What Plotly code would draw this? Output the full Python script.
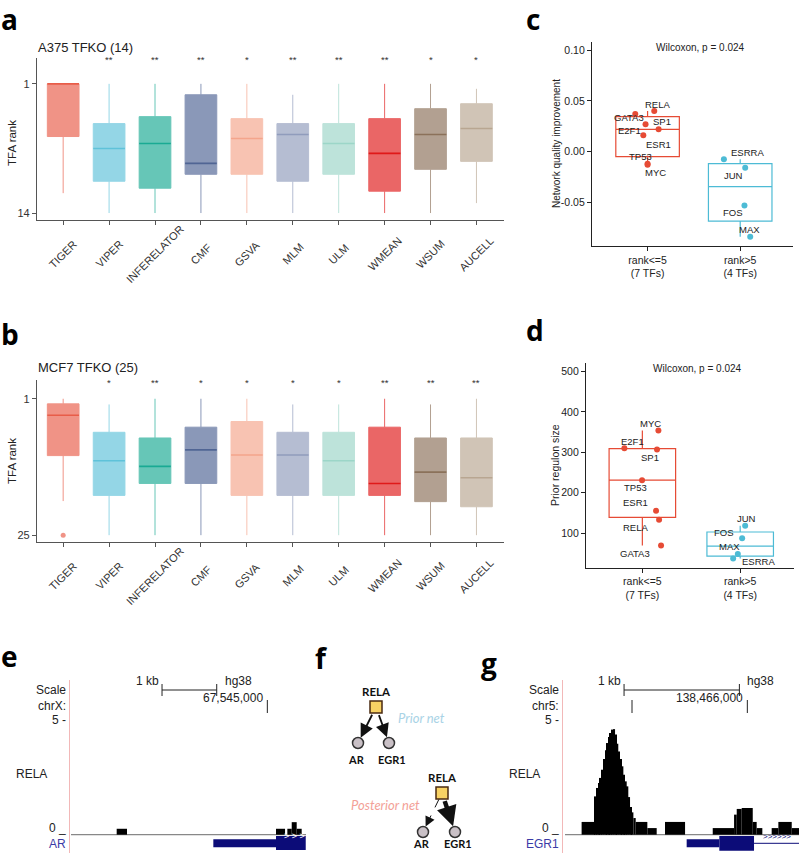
import plotly.graph_objects as go

W, H = 799, 853
FONT = "Liberation Sans"

methods = ["TIGER", "VIPER", "INFERELATOR", "CMF", "GSVA",
           "MLM", "ULM", "WMEAN", "WSUM", "AUCELL"]
npg = ["#E64B35", "#4DBBD5", "#00A087", "#3C5488", "#F39B7F",
       "#8491B4", "#91D1C2", "#DC0000", "#7E6148", "#B09C85"]

# a: A375 TFKO (14) - rank of the knocked-out TF per method
a_q1 = [1, 5.0, 4.3, 2.1, 4.5, 5.0, 5.0, 4.5, 3.5, 3.0]
a_median = [1, 7.5, 7.0, 9.0, 6.5, 6.1, 7.0, 8.0, 6.1, 5.5]
a_q3 = [6.3, 10.8, 11.5, 10.1, 10.1, 10.8, 10.1, 11.8, 9.6, 8.8]
a_low = [1, 1, 1, 1, 1, 2.1, 1, 1, 1, 1.5]
a_high = [12, 14, 14, 14, 14, 14, 14, 14, 14, 13]
a_sig = ["", "**", "**", "**", "*", "**", "**", "**", "*", "*"]

# b: MCF7 TFKO (25)
b_q1 = [1.9, 6.9, 7.9, 6.0, 5.0, 6.9, 6.9, 6.0, 7.9, 7.9]
b_median = [3.9, 11.9, 12.9, 10.0, 10.9, 10.9, 11.9, 15.9, 13.9, 14.9]
b_q3 = [11.0, 18.0, 15.9, 15.9, 18.0, 18.0, 18.0, 18.0, 19.1, 20.0]
b_low = [1, 2, 1, 1, 1, 2, 2, 1, 2, 1]
b_high = [19, 25, 25, 25, 25, 25, 25, 25, 25, 25]
b_outlier_method = ["TIGER"]
b_outlier_rank = [25]
b_sig = ["", "*", "**", "*", "*", "*", "*", "**", "**", "**"]

# c / d: TFs split by TIGER rank
groups = ["rank&lt;=5<br>(7 TFs)", "rank&gt;5<br>(4 TFs)"]
c_tf_top = ["RELA", "GATA3", "E2F1", "SP1", "ESR1", "TP53", "MYC"]
c_val_top = [0.040, 0.037, 0.027, 0.022, 0.016, -0.012, -0.013]
c_tf_low = ["ESRRA", "JUN", "FOS", "MAX"]
c_val_low = [-0.0075, -0.016, -0.053, -0.084]

d_tf_top = ["MYC", "E2F1", "SP1", "TP53", "ESR1", "RELA", "GATA3"]
d_val_top = [354, 310, 307, 231, 155, 133, 69]
d_tf_low = ["JUN", "FOS", "MAX", "ESRRA"]
d_val_low = [118, 87, 48, 37]
wilcox_p = 0.024

# jitter (category units) and label nudges (px) as drawn
c_jit_top = [0.072, -0.133, -0.022, 0.119, -0.046, 0.0, 0.0]
c_nudge_top = [(3, 7), (-6, -3), (-16, -6), (3, 8), (15, -9), (-7, 7), (8, -8)]
c_jit_low = [-0.176, 0.054, 0.046, 0.108]
c_nudge_low = [(24, 7), (-12, -8), (-11, -7), (-1, 7)]
d_jit_top = [0.164, -0.184, 0.150, -0.003, 0.14, 0.171, 0.191]
d_nudge_top = [(-8, 7), (8, 7), (-7, -8), (-7, -7), (-21, 8), (-24, -8), (-26, -8)]
d_jit_low = [0.051, 0.02, -0.024, -0.072]
d_nudge_low = [(1, 7), (-18, 6), (-8, 7), (25, -3)]

# e: RELA ChIP signal at AR (chrX)
e_view = [67541411, 67545707]
e_start = [67542246, 67545159, 67545366, 67545446, 67545537]
e_end = [67542435, 67545324, 67545446, 67545537, 67545628]
e_val = [0.26, 0.26, 0.26, 0.55, 0.26]
e_utr = [67544013, 67545159]
e_cds = [67545159, 67545702]
e_scale = [67543075, 67544075]
e_tick = [67545000]

# g: RELA ChIP signal at EGR1 (chr5)
g_view = [138464419, 138466448]
g_start = [138464563, 138464679, 138464694, 138464708, 138464722, 138464737,
           138464751, 138464766, 138464780, 138464795, 138464809, 138464824,
           138464838, 138464853, 138464867, 138464881, 138464896, 138464910,
           138464925, 138464939, 138464954, 138464968, 138464983, 138464997,
           138465012, 138465032, 138465133, 138465286, 138465700, 138465885,
           138465908, 138465951, 138466047, 138466081, 138466211, 138466269,
           138466385]
g_end = [138464679, 138464694, 138464708, 138464722, 138464737, 138464751,
         138464766, 138464780, 138464795, 138464809, 138464824, 138464838,
         138464853, 138464867, 138464881, 138464896, 138464910, 138464925,
         138464939, 138464954, 138464968, 138464983, 138464997, 138465012,
         138465032, 138465133, 138465214, 138465460, 138465885, 138465908,
         138465951, 138466047, 138466081, 138466130, 138466269, 138466385,
         138466448]
g_val = [0.56, 1.68, 2.05, 2.27, 2.49, 2.85, 3.32, 3.70, 4.02, 4.28, 4.46, 4.61,
         4.63, 4.39, 3.99, 3.65, 3.32, 3.00, 2.63, 2.34, 2.12, 1.65, 1.21, 0.98,
         0.73, 0.56, 0.29, 0.56, 0.29, 0.88, 1.13, 1.17, 0.56, 0.29, 0.29, 0.56,
         0.29]
g_utr = [138465474, 138465757]
g_cds = [138465757, 138466058]
g_intron = [138466058, 138466448]
g_scale = [138464931, 138465931]
g_tick = [138465000, 138466000]

# f: network sketch (positions in px)
f_nodes = {"RELA_p": (376, 707), "AR_p": (358, 743), "EGR1_p": (389, 743),
           "RELA_q": (442, 793), "AR_q": (423, 832), "EGR1_q": (455, 832)}
f_edges = [("RELA_p", "AR_p", "solid"), ("RELA_p", "EGR1_p", "solid"),
           ("RELA_q", "AR_q", "dash"), ("RELA_q", "EGR1_q", "thick")]


def fx(px):
    return px / W


def fy(py):
    return 1 - py / H


def blend(hexc, a):
    rgb = [int(hexc[i:i + 2], 16) for i in (1, 3, 5)]
    return "rgb(%d,%d,%d)" % tuple(round(v * a + 255 * (1 - a)) for v in rgb)


fig = go.Figure()
ann = []
shapes = []


def note(px, py, text, size=12, color="#222", xanchor="center", family=FONT, angle=0):
    ann.append(dict(x=fx(px), y=fy(py), xref="paper", yref="paper", text=text,
                    showarrow=False, xanchor=xanchor, yanchor="middle", textangle=angle,
                    borderpad=0, font=dict(size=size, color=color, family=family)))


def rank_panel(q1, med, q3, lo, hi, sig, xa, ya, star_py, label_py):
    for i, m in enumerate(methods):
        fig.add_trace(go.Box(x=[i], q1=[q1[i]], median=[med[i]], q3=[q3[i]],
                             lowerfence=[lo[i]], upperfence=[hi[i]], width=0.69,
                             whiskerwidth=0, fillcolor=blend(npg[i], 0.6),
                             line=dict(color=blend(npg[i], 0.6), width=1),
                             boxpoints=False, orientation="v", name=m,
                             xaxis=xa, yaxis=ya, hoverinfo="skip"))
        # median drawn darker on top
        fig.add_trace(go.Box(x=[i], q1=[med[i]], median=[med[i]], q3=[med[i]],
                             lowerfence=[med[i]], upperfence=[med[i]], width=0.69,
                             whiskerwidth=0, fillcolor="rgba(0,0,0,0)",
                             line=dict(color=blend(npg[i], 0.9), width=1.6),
                             boxpoints=False, orientation="v", name=m,
                             xaxis=xa, yaxis=ya, hoverinfo="skip"))
        if sig[i]:
            ann.append(dict(x=i, xref=xa, y=fy(star_py), yref="paper", text=sig[i],
                            showarrow=False, yanchor="middle",
                            font=dict(size=9.5, color="#333", family=FONT)))
        # method names, rotated 45 degrees about their centre (as in the ggplot figure)
        ann.append(dict(x=i, xref=xa, y=fy(label_py), yref="paper", text=m,
                        showarrow=False, xanchor="center", yanchor="middle", textangle=-45,
                        font=dict(size=11, color="#333", family=FONT)))


rank_panel(a_q1, a_median, a_q3, a_low, a_high, a_sig, "x", "y", 60, 254)
rank_panel(b_q1, b_median, b_q3, b_low, b_high, b_sig, "x2", "y2", 382, 576)
fig.add_trace(go.Scatter(x=[methods.index(m) for m in b_outlier_method], y=b_outlier_rank,
                         mode="markers", marker=dict(color=blend(npg[0], 0.6), size=5),
                         xaxis="x2", yaxis="y2", hoverinfo="skip"))


def group_panel(sets, xa, ya, width):
    for gi, (vals, tfs, jit, nud) in enumerate(sets):
        col = npg[gi]
        fig.add_trace(go.Box(x=[gi] * len(vals), y=vals, quartilemethod="linear",
                             width=width, whiskerwidth=0, fillcolor="rgba(0,0,0,0)",
                             line=dict(color=col, width=1.2), boxpoints=False,
                             xaxis=xa, yaxis=ya, hoverinfo="skip"))
        fig.add_trace(go.Scatter(x=[gi + j for j in jit], y=vals, mode="markers",
                                 marker=dict(color=col, size=6),
                                 xaxis=xa, yaxis=ya, hoverinfo="skip"))
        for k in range(len(vals)):
            ann.append(dict(x=gi + jit[k], y=vals[k], xref=xa, yref=ya, text=tfs[k],
                            showarrow=False, xshift=nud[k][0], yshift=nud[k][1],
                            font=dict(size=9.5, color="#222", family=FONT)))


group_panel([(c_val_top, c_tf_top, c_jit_top, c_nudge_top),
             (c_val_low, c_tf_low, c_jit_low, c_nudge_low)], "x3", "y3", 0.686)
group_panel([(d_val_top, d_tf_top, d_jit_top, d_nudge_top),
             (d_val_low, d_tf_low, d_jit_low, d_nudge_low)], "x4", "y4", 0.68)


def track(starts, ends, vals, view, xa, ya):
    fig.add_trace(go.Bar(x=[(s + e) / 2 for s, e in zip(starts, ends)], y=vals,
                         width=[e - s for s, e in zip(starts, ends)],
                         marker=dict(color="black", line=dict(width=0)),
                         xaxis=xa, yaxis=ya, hoverinfo="skip"))
    shapes.append(dict(type="line", xref=xa, yref=ya, x0=view[0], x1=view[1], y0=0, y1=0,
                       line=dict(color="#888", width=1.2), layer="below"))


track(e_start, e_end, e_val, e_view, "x5", "y5")
track(g_start, g_end, g_val, g_view, "x6", "y6")

NAVY = "#0C0C78"


def gene_rect(xa, x0, x1, top, bot):
    shapes.append(dict(type="rect", xref=xa, yref="paper", x0=x0, x1=x1,
                       y0=fy(bot), y1=fy(top), fillcolor=NAVY, line=dict(width=0)))


def vline(xa, x, top, bot, color="#222"):
    shapes.append(dict(type="line", xref=xa, yref="paper", x0=x, x1=x,
                       y0=fy(bot), y1=fy(top), line=dict(color=color, width=1)))


gene_rect("x5", e_utr[0], e_utr[1], 839.3, 847.3)
gene_rect("x5", e_cds[0], e_cds[1], 836, 850)
ann.append(dict(x=(e_cds[0] + e_cds[1]) / 2 + 70, xref="x5", y=fy(843), yref="paper",
                text="&gt; &gt; &gt;", showarrow=False,
                font=dict(size=9, color="white", family=FONT)))
gene_rect("x6", g_utr[0], g_utr[1], 839.3, 847.3)
gene_rect("x6", g_cds[0], g_cds[1], 836, 850.7)
shapes.append(dict(type="line", xref="x6", yref="paper", x0=g_intron[0], x1=g_intron[1],
                   y0=fy(843.3), y1=fy(843.3), line=dict(color=NAVY, width=1)))
ann.append(dict(x=(g_intron[0] + g_intron[1]) / 2, xref="x6", y=fy(843.3), yref="paper",
                text="&gt;&gt;&gt;&gt;&gt;&gt;", showarrow=False,
                font=dict(size=8, color=NAVY, family=FONT)))

# scale bars and coordinate ticks
for xa, sc, ticks, lab in [("x5", e_scale, e_tick, "67,545,000"),
                           ("x6", g_scale, g_tick, "138,466,000")]:
    shapes.append(dict(type="line", xref=xa, yref="paper", x0=sc[0], x1=sc[1],
                       y0=fy(690), y1=fy(690), line=dict(color="#222", width=1)))
    vline(xa, sc[0], 684, 696)
    vline(xa, sc[1], 684, 696)
    for t in ticks:
        vline(xa, t, 700, 713)
    ann.append(dict(x=sc[0], xref=xa, y=fy(690), yref="paper", text="1 kb", xanchor="right",
                    xshift=-1, showarrow=False, font=dict(size=12, color="#222", family=FONT)))
    ann.append(dict(x=sc[1], xref=xa, y=fy(690), yref="paper", text="hg38", xanchor="left",
                    xshift=6, showarrow=False, font=dict(size=12, color="#222", family=FONT)))
    ann.append(dict(x=ticks[-1], xref=xa, y=fy(707), yref="paper", text=lab, xanchor="right",
                    xshift=-2, showarrow=False, font=dict(size=12, color="#222", family=FONT)))

for left, right, chrom, gene in [(15, 67, "chrX:", "AR"), (508, 560, "chr5:", "EGR1")]:
    note(right, 690, "Scale", xanchor="right")
    note(right, 706, chrom, xanchor="right")
    note(right, 720, "5 -", xanchor="right")
    note(left, 774, "RELA", xanchor="left")
    note(right, 828, "0 _", xanchor="right")
    note(right, 844, gene, color="#3B3BA6", xanchor="right")
    shapes.append(dict(type="line", xref="paper", yref="paper", x0=fx(right + 2.5), x1=fx(right + 2.5),
                       y0=fy(853), y1=fy(680), line=dict(color="#F2B8B8", width=1)))

# f: prior / posterior network
for a, b, style in f_edges:
    (x0, y0), (x1, y1) = f_nodes[a], f_nodes[b]
    dx, dy = x1 - x0, y1 - y0
    ln = (dx * dx + dy * dy) ** 0.5
    ux, uy = dx / ln, dy / ln
    tx, ty = x0 + ux * 7, y0 + uy * 7
    hx, hy = x1 - ux * 6, y1 - uy * 6
    if style == "dash":
        fig.add_trace(go.Scatter(x=[tx, hx], y=[ty, hy], mode="lines",
                                 line=dict(color="#111", width=1, dash="dash"),
                                 xaxis="x7", yaxis="y7", hoverinfo="skip"))
        ann.append(dict(x=hx, y=hy, ax=hx - ux * 5, ay=hy - uy * 5, xref="x7", yref="y7",
                        axref="x7", ayref="y7", text="", showarrow=True, arrowhead=2,
                        arrowsize=2, arrowwidth=1, arrowcolor="#111"))
    else:
        w = 4.5 if style == "thick" else 1.8
        ann.append(dict(x=hx, y=hy, ax=tx, ay=ty, xref="x7", yref="y7",
                        axref="x7", ayref="y7", text="", showarrow=True, arrowhead=2,
                        arrowsize=0.9 if style == "thick" else 1.5,
                        arrowwidth=w, arrowcolor="#111"))

sq = [f_nodes[k] for k in f_nodes if k.startswith("RELA")]
circ = [f_nodes[k] for k in f_nodes if not k.startswith("RELA")]
fig.add_trace(go.Scatter(x=[p[0] for p in sq], y=[p[1] for p in sq], mode="markers",
                         marker=dict(symbol="square", size=12, color="#F8D264",
                                     line=dict(color="#4A2A10", width=1.5)),
                         xaxis="x7", yaxis="y7", hoverinfo="skip"))
fig.add_trace(go.Scatter(x=[p[0] for p in circ], y=[p[1] for p in circ], mode="markers",
                         marker=dict(symbol="circle", size=11, color="#C9C0C6",
                                     line=dict(color="#333", width=1.5)),
                         xaxis="x7", yaxis="y7", hoverinfo="skip"))
for key, (x, y) in f_nodes.items():
    name, net = key.split("_")
    if name == "RELA":
        note(x, y - 16, "<b>RELA</b>", size=11.5, color="#111", family="Lato")
    else:
        below = 16 if net == "p" else 11.5
        note(x + (3 if name == "EGR1" else -2), y + below, "<b>%s</b>" % name, size=11,
             color="#111", family="Lato")
note(422, 718, "<i>Prior net</i>", size=13, color="#A9D3E6", family="Lato")
note(385, 805, "<i>Posterior net</i>", size=13, color="#F3A197", family="Lato")

# titles and labels
note(37, 47, "A375 TFKO (14)", size=13, xanchor="left")
note(37, 368, "MCF7 TFKO (25)", size=13, xanchor="left")
note(12, 143, "TFA rank", size=11.5, angle=-90)
note(12, 461, "TFA rank", size=11.5, angle=-90)
note(556, 144, "Network quality improvement", size=10, angle=-90)
note(555, 465, "Prior regulon size", size=10.5, angle=-90)
note(700, 47, "Wilcoxon, p = %.3f" % wilcox_p, size=10)
note(697, 369, "Wilcoxon, p = %.3f" % wilcox_p, size=10)

for letter, px, py in [("a", 0, 18.5), ("b", 0, 334), ("c", 525, 19), ("d", 525, 330),
                       ("e", 0, 655.5), ("f", 314, 658), ("g", 480, 663)]:
    note(px, py, "<b>%s</b>" % letter, size=28, color="black", xanchor="left", family="Open Sans")

rank_x = dict(showline=True, linecolor="#555", linewidth=1.3, ticks="outside", ticklen=4,
              tickcolor="#555", showgrid=False, zeroline=False,
              tickfont=dict(size=11, color="#333", family=FONT))
grp_ax = dict(showline=True, linecolor="#222", linewidth=1.2, ticks="outside", ticklen=4,
              tickcolor="#222", showgrid=False, zeroline=False,
              tickfont=dict(size=10.5, color="#222", family=FONT))
hidden = dict(visible=False, showgrid=False, zeroline=False)

fig.update_layout(
    width=W, height=H, margin=dict(l=0, r=0, t=0, b=0), showlegend=False,
    paper_bgcolor="white", plot_bgcolor="rgba(0,0,0,0)", font=dict(family=FONT),
    xaxis=dict(domain=[fx(37), fx(504)], range=[-0.57, 9.6], tickvals=list(range(10)),
               showticklabels=False, anchor="y", **rank_x),
    yaxis=dict(domain=[fy(220), fy(58)], range=[14.7, -1.6], tickvals=[1, 14],
               anchor="x", **rank_x),
    xaxis2=dict(domain=[fx(37), fx(504)], range=[-0.57, 9.6], tickvals=list(range(10)),
                showticklabels=False, anchor="y2", **rank_x),
    yaxis2=dict(domain=[fy(542), fy(380)], range=[26.2, -2.3], tickvals=[1, 25],
                anchor="x2", **rank_x),
    xaxis3=dict(domain=[fx(592), fx(793)], range=[-0.6, 1.57], tickvals=[0, 1],
                ticktext=groups, anchor="y3", **grp_ax),
    yaxis3=dict(domain=[fy(246), fy(42)], range=[-0.093, 0.108],
                tickvals=[-0.05, 0, 0.05, 0.10], ticktext=["-0.05", "0.00", "0.05", "0.10"],
                anchor="x3", **grp_ax),
    xaxis4=dict(domain=[fx(586), fx(794)], range=[-0.576, 1.55], tickvals=[0, 1],
                ticktext=groups, anchor="y4", **grp_ax),
    yaxis4=dict(domain=[fy(567.7), fy(362.7)], range=[14, 522],
                tickvals=[100, 200, 300, 400, 500], anchor="x4", **grp_ax),
    xaxis5=dict(domain=[fx(71), fx(306)], range=e_view, anchor="y5", **hidden),
    yaxis5=dict(domain=[fy(852), fy(700)], range=[-0.759, 5.908], anchor="x5", **hidden),
    xaxis6=dict(domain=[fx(565), fx(799)], range=g_view, anchor="y6", **hidden),
    yaxis6=dict(domain=[fy(852), fy(700)], range=[-0.759, 5.908], anchor="x6", **hidden),
    xaxis7=dict(domain=[fx(300), fx(490)], range=[300, 490], anchor="y7", **hidden),
    yaxis7=dict(domain=[0, fy(668)], range=[853, 668], anchor="x7", **hidden),
    annotations=ann, shapes=shapes,
)

# the page's default body margin would push the figure 8px off the window
fig.write_html("out.html", config={"displayModeBar": False},
               post_script="document.body.style.margin='0px';")
